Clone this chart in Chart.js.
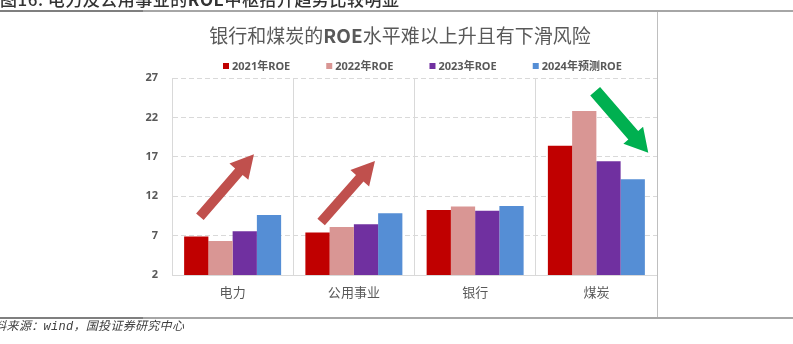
<!DOCTYPE html>
<html>
<head>
<meta charset="utf-8">
<script src="https://cdn.jsdelivr.net/npm/chart.js@4.4.0/dist/chart.umd.min.js"></script>
<style>
  html, body { margin: 0; padding: 0; background: #fff; }
  body { width: 793px; height: 344px; position: relative; overflow: hidden; font-family: "Noto Sans CJK SC", sans-serif; }
  #chart { position: absolute; left: 0; top: 0; }
  .rule { position: absolute; left: 0; width: 793px; height: 2px; background: #a6a6a6; }
  .rule span { position: absolute; left: 0; top: 0; width: 143px; height: 2px; background: #7f7f7f; }
  #box { position: absolute; left: 143px; top: 12px; width: 515px; height: 305px; border-right: 1px solid #bfbfbf; box-sizing: border-box; }
  #header { position: absolute; left: 0; top: -13px; font-size: 17px; font-weight: 500; color: #333; white-space: nowrap; line-height: 24px; letter-spacing: 0.5px; }
  #title { position: absolute; left: 143px; width: 514px; top: 22px; text-align: center; font-size: 19px; color: #595959; line-height: 26px; white-space: nowrap; }
  #footer { position: absolute; left: -18px; top: 319px; font-size: 12px; font-style: italic; color: #404040; white-space: nowrap; line-height: 16px; letter-spacing: 0.3px; font-family: "Liberation Mono", "Noto Sans CJK SC", monospace; }
</style>
</head>
<body>
<canvas id="chart" width="793" height="344"></canvas>
<div id="box"></div>
<div class="rule" style="top:10px"><span></span></div>
<div class="rule" style="top:317px"><span></span></div>
<div id="header">图16: 电力及公用事业的<b>ROE</b>中枢抬升趋势比较明显</div>
<div id="title">银行和煤炭的<b>ROE</b>水平难以上升且有下滑风险</div>
<div id="footer">资料来源：wind，国投证券研究中心</div>
<script>
// data
var categories = ['电力', '公用事业', '银行', '煤炭'];
var seriesNames = ['2021年ROE', '2022年ROE', '2023年ROE', '2024年预测ROE'];
var roe2021 = [6.9, 7.4, 10.25, 18.4];
var roe2022 = [6.3, 8.1, 10.7, 22.8];
var roe2023 = [7.55, 8.45, 10.15, 16.45];
var roe2024e = [9.6, 9.85, 10.75, 14.15];
var yTicks = [2, 7, 12, 17, 22, 27];

var seriesColors = ['#C00000', '#D99694', '#7030A0', '#558ED5'];

// trend arrows, given in axis units (category index, ROE)
var trendArrows = [
    { from: [-0.27, 9.4], to: [0.176, 17.32], color: '#C0504D', shaft: 10, headW: 25, headL: 23 },
    { from: [0.73, 8.73], to: [1.174, 16.47], color: '#C0504D', shaft: 10, headW: 25, headL: 23 },
    { from: [2.99, 25.33], to: [3.428, 17.52], color: '#00B050', shaft: 13, headW: 26, headL: 23 }
];

function drawArrow(ctx, x0, y0, x1, y1, a) {
    var dx = x1 - x0, dy = y1 - y0;
    var len = Math.sqrt(dx * dx + dy * dy);
    var ux = dx / len, uy = dy / len;
    var px = -uy, py = ux;
    var bx = x1 - ux * a.headL, by = y1 - uy * a.headL;
    var s = a.shaft / 2, h = a.headW / 2;
    ctx.beginPath();
    ctx.moveTo(x0 + px * s, y0 + py * s);
    ctx.lineTo(bx + px * s, by + py * s);
    ctx.lineTo(bx + px * h, by + py * h);
    ctx.lineTo(x1, y1);
    ctx.lineTo(bx - px * h, by - py * h);
    ctx.lineTo(bx - px * s, by - py * s);
    ctx.lineTo(x0 - px * s, y0 - py * s);
    ctx.closePath();
    ctx.fillStyle = a.color;
    ctx.fill();
}

var overlay = {
    id: 'overlay',
    afterDatasetsDraw: function (chart) {
        var ctx = chart.ctx, xs = chart.scales.x, ys = chart.scales.y;
        ctx.save();
        trendArrows.forEach(function (a) {
            drawArrow(ctx,
                xs.getPixelForValue(a.from[0]), ys.getPixelForValue(a.from[1]),
                xs.getPixelForValue(a.to[0]), ys.getPixelForValue(a.to[1]), a);
        });
        ctx.restore();
    },
    afterDraw: function (chart) {
        // legend row
        var ctx = chart.ctx;
        ctx.save();
        ctx.font = 'bold 11px "Noto Sans", "Noto Sans CJK SC"';
        ctx.textBaseline = 'middle';
        var x = 223;
        chart.data.datasets.forEach(function (ds) {
            ctx.fillStyle = ds.backgroundColor;
            ctx.fillRect(x, 63, 6, 6);
            ctx.fillStyle = '#595959';
            ctx.fillText(ds.label, x + 9, 66.5);
            x += 9 + ctx.measureText(ds.label).width + 36;
        });
        ctx.restore();
    }
};

var allSeries = [roe2021, roe2022, roe2023, roe2024e];

var ctx = document.getElementById('chart').getContext('2d');
var roeChart = new Chart(ctx, {
    type: 'bar',
    data: {
        labels: categories,
        datasets: allSeries.map(function (vals, i) {
            return {
                label: seriesNames[i],
                data: vals,
                backgroundColor: seriesColors[i],
                categoryPercentage: 0.8,
                barPercentage: 1.0
            };
        })
    },
    options: {
        responsive: false,
        animation: false,
        layout: { padding: { left: 143, right: 136, top: 78, bottom: 45 } },
        plugins: {
            legend: { display: false },
            title: { display: false },
            tooltip: { enabled: false }
        },
        scales: {
            x: {
                grid: { offset: true, color: '#d9d9d9', drawTicks: false },
                border: { color: '#d9d9d9' },
                ticks: { color: '#595959', padding: 9, font: { family: '"Noto Sans CJK SC"', size: 13 } },
                afterFit: function (s) { s.height = 24; }
            },
            y: {
                min: yTicks[0],
                max: yTicks[yTicks.length - 1],
                afterBuildTicks: function (s) { s.ticks = yTicks.map(function (v) { return { value: v }; }); },
                grid: { color: '#d9d9d9', drawTicks: false },
                border: { color: '#d9d9d9', dash: [5, 3] },
                ticks: { color: '#595959', padding: 14, font: { family: '"Noto Sans"', size: 11, weight: 'bold' } },
                afterFit: function (s) { s.width = 29; }
            }
        }
    },
    plugins: [overlay]
});
</script>
</body>
</html>
